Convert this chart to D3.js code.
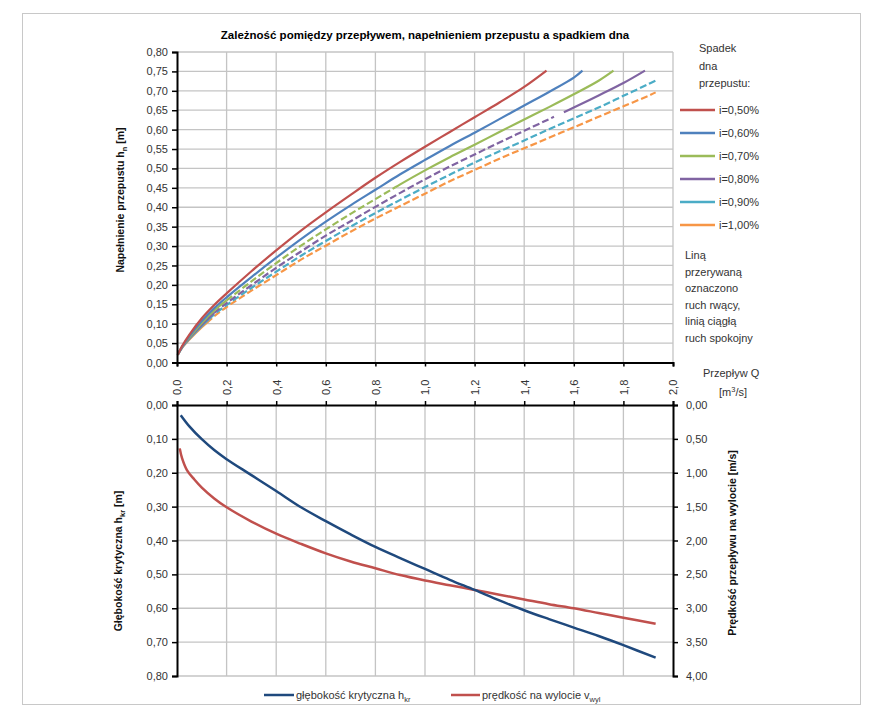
<!DOCTYPE html>
<html>
<head>
<meta charset="utf-8">
<script src="https://cdn.jsdelivr.net/npm/d3@7"></script>
<style>
body { margin: 0; background: #fff; }
svg text { font-family: "Liberation Sans", Arial, sans-serif; fill: #333; }
</style>
</head>
<body>
<svg id="chart" width="880" height="707"></svg>
<script>
//Top chart: filling h_n [m] vs flow Q [m3/s] for six culvert slopes
var slopeLabels = ["i=0,50%", "i=0,60%", "i=0,70%", "i=0,80%", "i=0,90%", "i=1,00%"];
var q050 = [0.003,0.02,0.05,0.1,0.15,0.2,0.3,0.4,0.5,0.6,0.7,0.8,0.9,1.0,1.1,1.2,1.3,1.4,1.49];
var h050 = [0.02,0.042,0.072,0.114,0.148,0.178,0.235,0.289,0.340,0.387,0.432,0.476,0.517,0.556,0.594,0.632,0.670,0.710,0.752];
var q060 = [0.003,0.02,0.05,0.1,0.15,0.2,0.3,0.4,0.5,0.6,0.7,0.8,0.9,1.0,1.1,1.2,1.3,1.4,1.5,1.6,1.635];
var h060 = [0.02,0.040,0.068,0.107,0.140,0.168,0.220,0.270,0.318,0.363,0.405,0.445,0.485,0.522,0.558,0.592,0.627,0.662,0.697,0.734,0.752];
var q070 = [0.003,0.02,0.05,0.1,0.15,0.2,0.3,0.4,0.5,0.6,0.7,0.8,0.9,1.0,1.1,1.2,1.3,1.4,1.5,1.6,1.7,1.76];
var h070 = [0.02,0.040,0.065,0.102,0.134,0.160,0.209,0.256,0.301,0.343,0.383,0.421,0.459,0.495,0.529,0.561,0.594,0.626,0.658,0.691,0.726,0.752];
var q080 = [0.003,0.02,0.05,0.1,0.15,0.2,0.3,0.4,0.5,0.6,0.7,0.8,0.9,1.0,1.1,1.2,1.3,1.4,1.5,1.6,1.7,1.8,1.887];
var h080 = [0.02,0.039,0.063,0.097,0.128,0.153,0.199,0.244,0.286,0.327,0.364,0.401,0.437,0.472,0.505,0.536,0.567,0.597,0.627,0.657,0.688,0.720,0.752];
var q090 = [0.003,0.02,0.05,0.1,0.15,0.2,0.3,0.4,0.5,0.6,0.7,0.8,0.9,1.0,1.1,1.2,1.3,1.4,1.5,1.6,1.7,1.8,1.9,1.935];
var h090 = [0.02,0.038,0.061,0.094,0.124,0.148,0.192,0.234,0.275,0.313,0.350,0.385,0.419,0.452,0.484,0.515,0.544,0.572,0.601,0.629,0.657,0.687,0.717,0.728];
var q100 = [0.003,0.02,0.05,0.1,0.15,0.2,0.3,0.4,0.5,0.6,0.7,0.8,0.9,1.0,1.1,1.2,1.3,1.4,1.5,1.6,1.7,1.8,1.9,1.93];
var h100 = [0.02,0.037,0.059,0.091,0.119,0.143,0.185,0.225,0.265,0.301,0.337,0.371,0.403,0.435,0.467,0.496,0.525,0.552,0.579,0.606,0.633,0.660,0.687,0.696];

//Flow regime ranges of Q: calm (ruch spokojny, solid) and rapid (ruch rwacy, dashed)
var calmRanges = [[[0.003,1.49]], [[0.003,1.635]], [[0.003,0.2],[0.88,1.76]], [[0.003,0.15],[1.56,1.887]], [[0.003,0.13]], [[0.003,0.12]]];
var rapidRanges = [[], [], [[0.2,0.88]], [[0.15,1.52]], [[0.13,1.935]], [[0.12,1.93]]];

//Bottom chart: critical depth h_kr [m] and outlet velocity v_wyl [m/s]
var qKr = [0.015,0.05,0.1,0.15,0.2,0.3,0.4,0.5,0.6,0.7,0.8,0.9,1.0,1.1,1.2,1.3,1.4,1.5,1.6,1.7,1.8,1.93];
var hKr = [0.030,0.063,0.101,0.133,0.160,0.207,0.254,0.302,0.343,0.382,0.419,0.452,0.484,0.516,0.546,0.577,0.606,0.632,0.657,0.682,0.709,0.746];
var qV = [0.011,0.02,0.04,0.07,0.1,0.15,0.2,0.3,0.4,0.5,0.6,0.7,0.8,0.9,1.0,1.1,1.2,1.3,1.4,1.5,1.6,1.7,1.8,1.93];
var vWyl = [0.64,0.78,0.96,1.10,1.22,1.38,1.51,1.72,1.90,2.05,2.19,2.31,2.41,2.51,2.59,2.66,2.73,2.80,2.87,2.94,3.00,3.07,3.14,3.23];

var xTicks = [0,0.2,0.4,0.6,0.8,1.0,1.2,1.4,1.6,1.8,2.0];
var hnTicks = d3.range(0, 0.8001, 0.05);
var hkrTicks = d3.range(0, 0.8001, 0.1);
var vTicks = d3.range(0, 4.001, 0.5);

var seriesColors = ["#c0504d", "#4f81bd", "#9bbb59", "#8064a2", "#4bacc6", "#f79646"];
var seriesQ = [q050, q060, q070, q080, q090, q100];
var seriesH = [h050, h060, h070, h080, h090, h100];

var pl = d3.formatLocale({decimal: ",", thousands: " ", grouping: [3], currency: ["", " zł"]});
var f2 = pl.format(".2f"), f1 = pl.format(".1f");

var svg = d3.select("#chart");
var gridColor = "#c4c4c4";

//outer frame
svg.append("rect").attr("x", 22.5).attr("y", 13.5).attr("width", 838).attr("height", 691)
	.attr("fill", "none").attr("stroke", "#c8c8c8");

var x = d3.scaleLinear().domain([0, 2]).range([177, 673]);
var yTop = d3.scaleLinear().domain([0, 0.8]).range([362.5, 52]);
var yBot = d3.scaleLinear().domain([0, 0.8]).range([405, 676]);
var yVel = d3.scaleLinear().domain([0, 4]).range([405, 676]);

//linear interpolation to cut a series at a regime boundary
function valueAt(q, v, t) {
	for (var i = 0; i < q.length - 1; i++) {
		if (t >= q[i] && t <= q[i+1])
			return v[i] + (v[i+1]-v[i])*(t-q[i])/(q[i+1]-q[i]);
	}
	return v[v.length-1];
}
function slice(q, v, a, b) {
	var pts = [[a, valueAt(q, v, a)]];
	q.forEach(function(d, i) { if (d > a && d < b) pts.push([d, v[i]]); });
	pts.push([b, valueAt(q, v, b)]);
	return pts;
}

function styleAxis(g) {
	g.select(".domain").attr("stroke", "#000").attr("stroke-width", 2);
	g.selectAll(".tick line").attr("stroke", "#000").attr("stroke-width", 1.5);
	g.selectAll(".tick text").attr("font-size", 11).attr("fill", "#3a3a3a");
}

//---- gridlines ----
var grid = svg.append("g");
grid.selectAll("line.ht").data(hnTicks.slice(1)).enter().append("line")
	.attr("x1", x(0)).attr("x2", x(2)).attr("y1", function(d){return yTop(d);}).attr("y2", function(d){return yTop(d);})
	.attr("stroke", gridColor).attr("stroke-width", 1.3);
grid.selectAll("line.vt").data(xTicks.slice(1)).enter().append("line")
	.attr("x1", function(d){return x(d);}).attr("x2", function(d){return x(d);}).attr("y1", yTop(0.8)).attr("y2", yTop(0))
	.attr("stroke", gridColor).attr("stroke-width", 1.3);
grid.selectAll("line.hb").data(hkrTicks.slice(1)).enter().append("line")
	.attr("x1", x(0)).attr("x2", x(2)).attr("y1", function(d){return yBot(d);}).attr("y2", function(d){return yBot(d);})
	.attr("stroke", gridColor).attr("stroke-width", 1.3);
grid.selectAll("line.vb").data(xTicks.slice(1, -1)).enter().append("line")
	.attr("x1", function(d){return x(d);}).attr("x2", function(d){return x(d);}).attr("y1", yBot(0)).attr("y2", yBot(0.8))
	.attr("stroke", gridColor).attr("stroke-width", 1.3);

//---- top chart lines ----
var smooth = d3.curveCatmullRom.alpha(0.5);
var line = d3.line().x(function(d){return x(d[0]);}).y(function(d){return yTop(d[1]);}).curve(smooth);
for (var s = seriesQ.length - 1; s >= 0; s--) {
	calmRanges[s].forEach(function(r) {
		svg.append("path").attr("d", line(slice(seriesQ[s], seriesH[s], r[0], r[1])))
			.attr("fill", "none").attr("stroke", seriesColors[s]).attr("stroke-width", 2.2);
	});
	rapidRanges[s].forEach(function(r) {
		svg.append("path").attr("d", line(slice(seriesQ[s], seriesH[s], r[0], r[1])))
			.attr("fill", "none").attr("stroke", seriesColors[s]).attr("stroke-width", 2.2)
			.attr("stroke-dasharray", "7,3");
	});
}

//---- bottom chart lines ----
var lineKr = d3.line().x(function(d){return x(d[0]);}).y(function(d){return yBot(d[1]);}).curve(smooth);
var lineV = d3.line().x(function(d){return x(d[0]);}).y(function(d){return yVel(d[1]);}).curve(smooth);
svg.append("path").attr("d", lineV(qV.map(function(d,i){return [d, vWyl[i]];})))
	.attr("fill", "none").attr("stroke", "#c0504d").attr("stroke-width", 2.5);
svg.append("path").attr("d", lineKr(qKr.map(function(d,i){return [d, hKr[i]];})))
	.attr("fill", "none").attr("stroke", "#1f497d").attr("stroke-width", 2.5);

//---- axes ----
svg.append("g").attr("transform", "translate(" + x(0) + ",0)")
	.call(d3.axisLeft(yTop).tickValues(hnTicks).tickFormat(f2).tickSize(5).tickPadding(4))
	.call(styleAxis);
svg.append("g").attr("transform", "translate(0," + yTop(0) + ")")
	.call(d3.axisBottom(x).tickValues(xTicks).tickFormat("").tickSize(4))
	.call(styleAxis);

var topAx = svg.append("g").attr("transform", "translate(0," + yBot(0) + ")")
	.call(d3.axisTop(x).tickValues(xTicks).tickFormat(f1).tickSize(4))
	.call(styleAxis);
topAx.selectAll(".tick text")
	.attr("transform", "rotate(-90)").attr("x", 10).attr("y", 0).attr("dy", "0.35em")
	.style("text-anchor", "start");
svg.append("g").attr("transform", "translate(" + x(0) + ",0)")
	.call(d3.axisLeft(yBot).tickValues(hkrTicks).tickFormat(f2).tickSize(5).tickPadding(4))
	.call(styleAxis);
svg.append("g").attr("transform", "translate(" + x(2) + ",0)")
	.call(d3.axisRight(yVel).tickValues(vTicks).tickFormat(f2).tickSize(5).tickPadding(8))
	.call(styleAxis);

//---- titles ----
svg.append("text").attr("x", 425).attr("y", 39).attr("text-anchor", "middle")
	.attr("font-size", 11.5).attr("font-weight", "bold").style("fill", "#000")
	.text("Zależność pomiędzy przepływem, napełnieniem przepustu a spadkiem dna");

function rotTitle(cx, cy, main, sub, tail) {
	var t = svg.append("text").attr("transform", "translate(" + cx + "," + cy + ") rotate(-90)")
		.attr("text-anchor", "middle").attr("font-size", 10.5).attr("font-weight", "bold").style("fill", "#111");
	t.append("tspan").text(main);
	if (sub) t.append("tspan").attr("font-size", 7.5).attr("dy", 3).text(sub);
	t.append("tspan").attr("dy", sub ? -3 : 0).text(tail);
}
rotTitle(124, 200, "Napełnienie przepustu h", "n", " [m]");
rotTitle(122, 561, "Głębokość krytyczna h", "kr", " [m]");
rotTitle(736, 543, "Prędkość przepływu na wylocie  [m/s]", null, "");

svg.append("text").attr("x", 703).attr("y", 377).attr("font-size", 11).text("Przepływ Q");
var unit = svg.append("text").attr("x", 719).attr("y", 396).attr("font-size", 11);
unit.append("tspan").text("[m");
unit.append("tspan").attr("font-size", 7.5).attr("dy", -4).text("3");
unit.append("tspan").attr("dy", 4).text("/s]");

//---- right legend ----
["Spadek", "dna", "przepustu:"].forEach(function(t, i) {
	svg.append("text").attr("x", 699).attr("y", 52 + i*17.5).attr("font-size", 11).text(t);
});
var leg = svg.append("g").selectAll("g").data(slopeLabels).enter().append("g")
	.attr("transform", function(d, i){return "translate(680," + (110 + i*23) + ")";});
leg.append("line").attr("x1", 0).attr("x2", 35)
	.attr("stroke", function(d, i){return seriesColors[i];}).attr("stroke-width", 2.5);
leg.append("text").attr("x", 39).attr("dy", "0.35em").attr("font-size", 11).text(function(d){return d;});

["Liną", "przerywaną", "oznaczono", "ruch rwący,", "linią ciągłą", "ruch spokojny"].forEach(function(t, i) {
	svg.append("text").attr("x", 685).attr("y", 259 + i*16.6).attr("font-size", 11).text(t);
});

//---- bottom legend ----
var bl = svg.append("g").attr("transform", "translate(0,695)");
bl.append("line").attr("x1", 264).attr("x2", 294).attr("stroke", "#1f497d").attr("stroke-width", 2.5);
var t1 = bl.append("text").attr("x", 296).attr("dy", "0.35em").attr("font-size", 11);
t1.append("tspan").text("głębokość krytyczna h");
t1.append("tspan").attr("font-size", 7.5).attr("dy", 3).text("kr");
bl.append("line").attr("x1", 451).attr("x2", 480).attr("stroke", "#c0504d").attr("stroke-width", 2.5);
var t2 = bl.append("text").attr("x", 482).attr("dy", "0.35em").attr("font-size", 11);
t2.append("tspan").text("prędkość na wylocie v");
t2.append("tspan").attr("font-size", 7.5).attr("dy", 3).text("wyl");
</script>
</body>
</html>
